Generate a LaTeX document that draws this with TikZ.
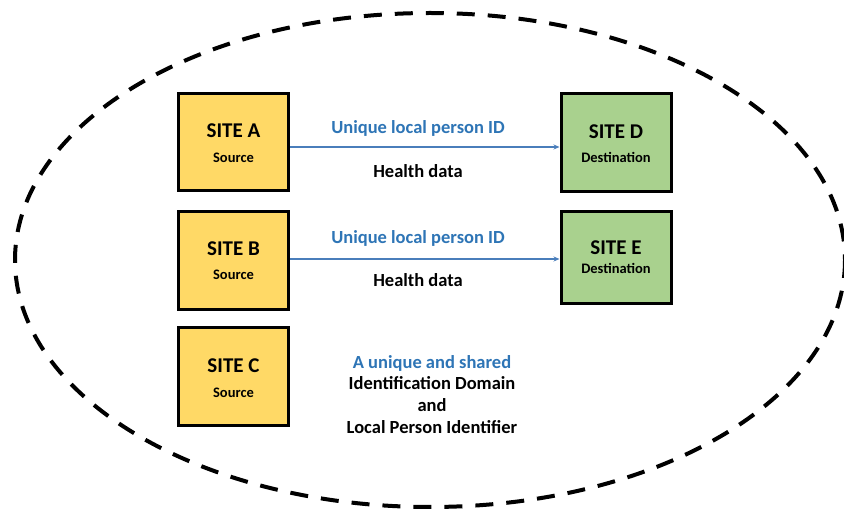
\documentclass[tikz,border=0pt]{standalone}
\usepackage{fontspec}
\setmainfont{Carlito}
\usetikzlibrary{arrows.meta}
\definecolor{siteyellow}{HTML}{FFD966}
\definecolor{sitegreen}{HTML}{A9D18E}
\definecolor{textblue}{HTML}{2E75B6}
\definecolor{arrowblue}{HTML}{4A7EBB}
\tikzset{
  sitebox/.style={draw=black, line width=3pt, minimum width=110pt, inner sep=0pt},
  srcbox/.style={sitebox, fill=siteyellow},
  dstbox/.style={sitebox, fill=sitegreen},
  sitetitle/.style={anchor=base, inner sep=0pt, font=\bfseries\fontsize{21}{25}\selectfont},
  sitesub/.style={anchor=base, inner sep=0pt, font=\bfseries\fontsize{14.5}{17}\selectfont},
  lbl/.style={anchor=base, inner sep=0pt, font=\bfseries\fontsize{18.5}{22}\selectfont},
  flow/.style={draw=arrowblue, line width=1.2pt, -{Stealth[length=6pt,width=5pt]}},
  boundary/.style={draw=black, line width=4pt, dash pattern=on 18pt off 13pt}
}
\begin{document}
\begin{tikzpicture}[x=1pt,y=-1pt]
\useasboundingbox (0,0) rectangle (844,510);
\fill[white] (0,0) rectangle (844,510);
\draw[boundary] (430,260) ellipse [x radius=415, y radius=247];

\node[srcbox, minimum height=97pt] (A) at (233.5,142.5) {};
\node[srcbox, minimum height=98pt] (B) at (233.5,260.5) {};
\node[srcbox, minimum height=98pt] (C) at (233.5,377) {};
\node[dstbox, minimum height=98pt] (D) at (616,142.5) {};
\node[dstbox, minimum height=92pt] (E) at (616,257.5) {};

\node[sitetitle] (At) at (233.5,138) {SITE A};
\node[sitesub] (As) at (233.5,162.5) {Source};
\node[sitetitle] (Bt) at (233.5,256) {SITE B};
\node[sitesub] (Bs) at (233.5,280) {Source};
\node[sitetitle] (Ct) at (233.5,372.5) {SITE C};
\node[sitesub] (Cs) at (233.5,397.5) {Source};
\node[sitetitle] (Dt) at (616,138.3) {SITE D};
\node[sitesub] (Ds) at (616,162.3) {Destination};
\node[sitetitle] (Et) at (616,255) {SITE E};
\node[sitesub] (Es) at (616,273.3) {Destination};

\coordinate (a1) at (A.east |- 0,147);
\coordinate (d1) at (D.west |- 0,147);
\draw[flow] (a1) -- (d1);
\coordinate (b1) at (B.east |- 0,259);
\coordinate (e1) at (E.west |- 0,259);
\draw[flow] (b1) -- (e1);

\node[lbl, text=textblue] (u1) at (418,133.3) {Unique local person ID};
\node[lbl] (h1) at (418,177.7) {Health data};
\node[lbl, text=textblue] (u2) at (418,243.3) {Unique local person ID};
\node[lbl] (h2) at (418,286.7) {Health data};

\node[lbl, text=textblue] (s1) at (432,368.3) {A unique and shared};
\node[lbl] (s2) at (432,390) {Identification Domain};
\node[lbl] (s3) at (432,411.7) {and};
\node[lbl] (s4) at (432,433.3) {Local Person Identifier};
\end{tikzpicture}
\end{document}
